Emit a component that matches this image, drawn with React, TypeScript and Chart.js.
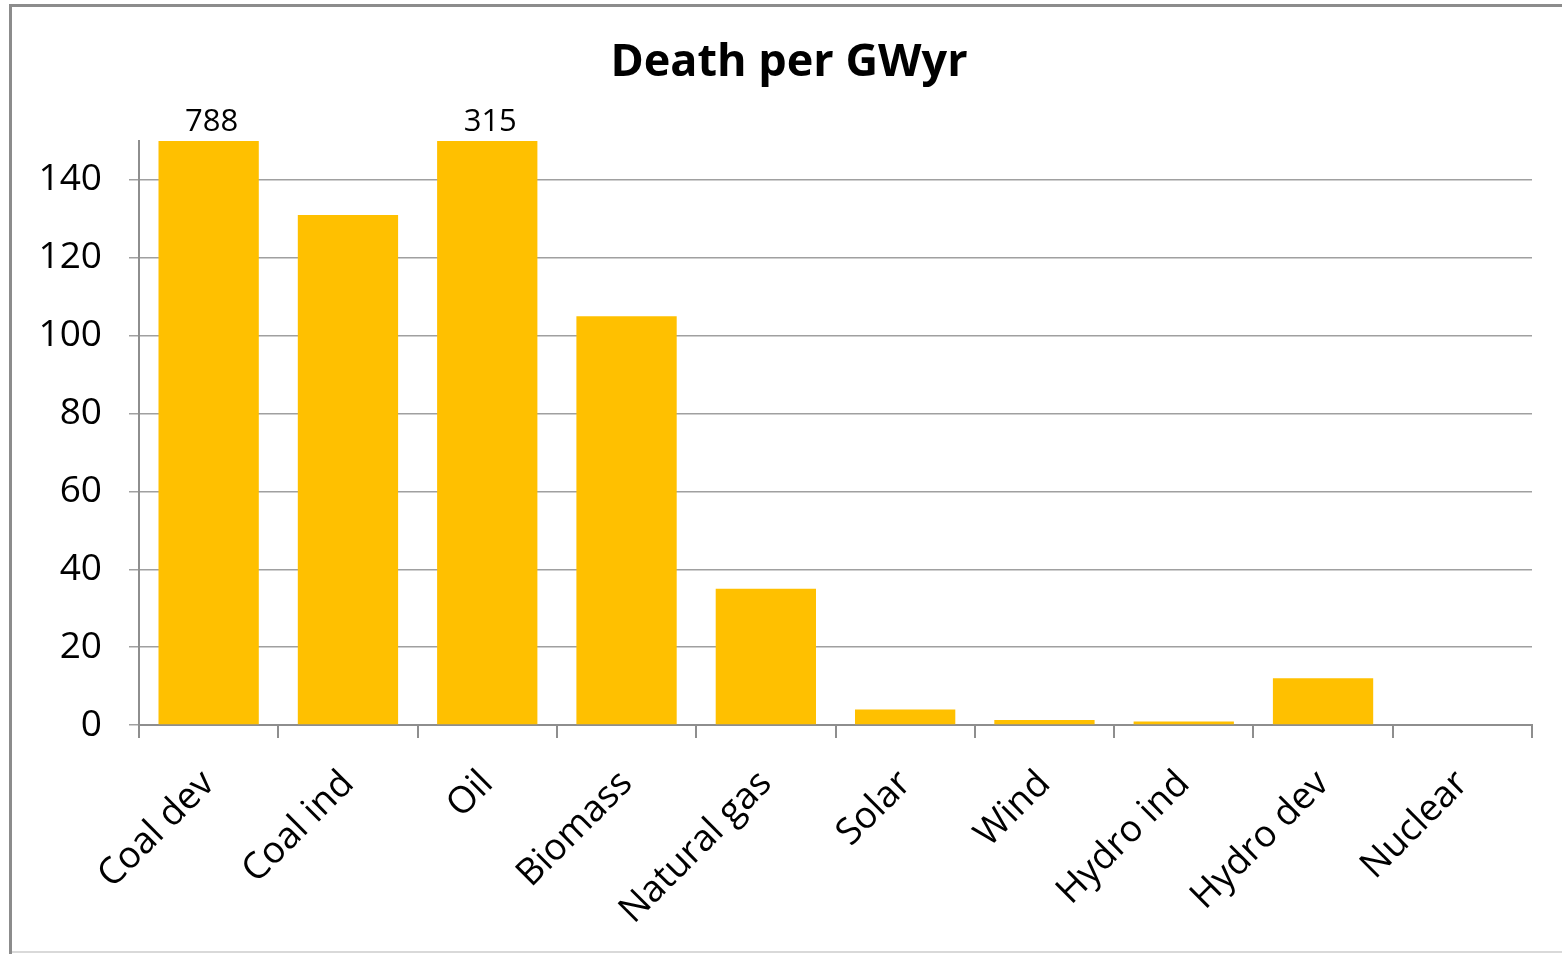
import { useEffect, useRef } from "react";
import { Chart, registerables } from "chart.js";

Chart.register(...registerables);

// Deaths per GWyr by energy source
const categories = [
  "Coal dev",
  "Coal ind",
  "Oil",
  "Biomass",
  "Natural gas",
  "Solar",
  "Wind",
  "Hydro ind",
  "Hydro dev",
  "Nuclear",
];
const deaths = [788, 131, 315, 105, 35, 4, 1.3, 0.9, 12, 0];
const yTicks = [0, 20, 40, 60, 80, 100, 120, 140];
const axisMax = 150;
const chartTitle = "Death per GWyr";

const FONT = "'Open Sans', 'Noto Sans', sans-serif";
const BAR_COLOR = "#FFC000";
const GRID_COLOR = "#a0a0a0";
const AXIS_COLOR = "#8e8e8e";

// White background, outer frame and the chart title
const framePlugin = {
  id: "frame",
  beforeDraw(chart: any) {
    const { ctx, width, height } = chart;
    ctx.save();
    ctx.fillStyle = "#ffffff";
    ctx.fillRect(0, 0, width, height);
    ctx.fillStyle = "#8c8c8c";
    ctx.fillRect(9, 4, width - 9, 3);
    ctx.fillRect(9, 4, 3, height - 4);
    ctx.fillStyle = "#d9d9d9";
    ctx.fillRect(12, height - 3, width - 12, 2);
    ctx.fillStyle = "#000000";
    ctx.font = `bold 45px ${FONT}`;
    ctx.textAlign = "center";
    ctx.textBaseline = "middle";
    ctx.fillText(chartTitle, 789, 63);
    ctx.restore();
  },
};

// Values of bars that run past the top of the axis are written above them
const overflowLabels = {
  id: "overflowLabels",
  afterDatasetsDraw(chart: any) {
    const { ctx, chartArea } = chart;
    const yScale = chart.scales.y;
    const meta = chart.getDatasetMeta(0);
    ctx.save();
    ctx.fillStyle = "#000000";
    ctx.font = `31px ${FONT}`;
    ctx.textAlign = "center";
    ctx.textBaseline = "alphabetic";
    meta.data.forEach((bar: any, i: number) => {
      const v = deaths[i];
      if (v > yScale.max) {
        ctx.fillText(String(v), bar.x + 3, chartArea.top - 10);
      }
    });
    ctx.restore();
  },
};

export default function App() {
  const canvasRef = useRef<HTMLCanvasElement | null>(null);

  useEffect(() => {
    const canvas = canvasRef.current;
    if (!canvas) return;
    const chart = new Chart(canvas, {
      type: "bar",
      data: {
        labels: categories,
        datasets: [
          {
            data: deaths,
            backgroundColor: BAR_COLOR,
            borderWidth: 0,
            categoryPercentage: 1,
            barPercentage: 0.72,
            clip: 0,
          },
        ],
      },
      options: {
        animation: false,
        responsive: false,
        devicePixelRatio: 1,
        layout: { padding: { top: 141, left: 0, right: 30, bottom: 0 } },
        plugins: {
          legend: { display: false },
          tooltip: { enabled: false },
          title: { display: false },
        },
        scales: {
          x: {
            grid: {
              offset: true,
              drawOnChartArea: false,
              drawTicks: true,
              tickLength: 13,
              color: AXIS_COLOR,
              lineWidth: 2,
            },
            border: { color: AXIS_COLOR, width: 2 },
            ticks: {
              color: "#000000",
              font: { family: FONT, size: 37 },
              minRotation: 45,
              maxRotation: 45,
              autoSkip: false,
              padding: 24,
            },
            afterFit(scale: any) {
              scale.height = 229;
            },
          },
          y: {
            min: 0,
            max: axisMax,
            grid: {
              color: GRID_COLOR,
              lineWidth: 1.5,
              drawTicks: true,
              tickLength: 10,
            },
            border: { color: AXIS_COLOR, width: 2 },
            ticks: {
              color: "#000000",
              font: { family: FONT, size: 37 },
              padding: 27,
            },
            afterBuildTicks(scale: any) {
              scale.ticks = yTicks.map((v) => ({ value: v }));
            },
            afterFit(scale: any) {
              scale.width = 139;
            },
          },
        },
      },
      plugins: [framePlugin, overflowLabels],
    });
    return () => chart.destroy();
  }, []);

  return (
    <div
      style={{
        position: "fixed",
        left: 0,
        top: 0,
        width: 1562,
        height: 954,
        background: "#ffffff",
      }}
    >
      <canvas ref={canvasRef} width={1562} height={954} />
    </div>
  );
}
